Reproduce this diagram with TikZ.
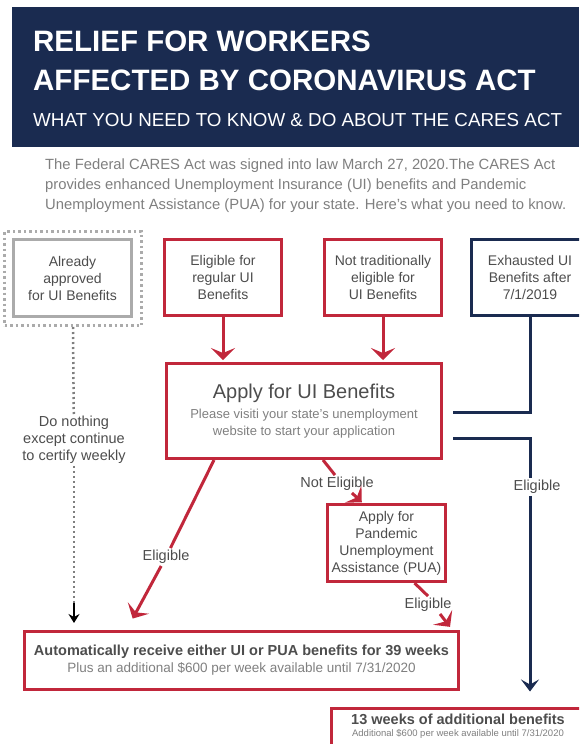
\documentclass[tikz,border=0pt]{standalone}
\usepackage{fontspec}
\setmainfont{Liberation Sans}
\usetikzlibrary{positioning, arrows.meta}
\definecolor{navy}{HTML}{1A2B50}
\definecolor{crimson}{HTML}{C1273B}
\definecolor{txtgray}{HTML}{4D4D4D}
\definecolor{softgray}{HTML}{7F7F7F}
\definecolor{boxgray}{HTML}{ABABAB}
\newcommand\fs[2]{\fontsize{#1}{#2}\selectfont}

\begin{document}
\begin{tikzpicture}[x=1pt, y=-1pt,
  redbox/.style = {draw=crimson, line width=3pt, text=txtgray, align=center, font=\fs{14}{17}, inner sep=0pt},
  navybox/.style = {redbox, draw=navy},
  lbl/.style = {text=txtgray, align=center, font=\fs{14.5}{17}, inner sep=2pt},
  redline/.style = {draw=crimson, line width=3pt},
  redarrow/.style = {redline, -{Stealth[length=12pt, width=24pt, inset=5pt]}},
  navyline/.style = {draw=navy, line width=3pt},
  navyarrow/.style = {navyline, -{Stealth[length=12pt, width=18pt, inset=5pt]}},
  dotline/.style = {draw=softgray, line width=2.5pt, dash pattern=on 2pt off 3pt}]
\useasboundingbox (0,0) rectangle (579,744);
\clip (0,0) rectangle (579,744);

\node[fill=navy, minimum width=567, minimum height=140, anchor=north west, inner sep=0] (header) at (12,7) {};
\node[anchor=base west, inner sep=0, text=white, font=\fs{29.5}{30}\bfseries] (title1) at (33,51) {RELIEF FOR WORKERS};
\node[anchor=base west, inner sep=0, text=white, font=\fs{29.5}{30}\bfseries] (title2) at (33,90) {AFFECTED BY CORONAVIRUS ACT};
\node[anchor=base west, inner sep=0, text=white, font=\fs{18.8}{20}] (subtitle) at (33,126) {WHAT YOU NEED TO KNOW \& DO ABOUT THE CARES ACT};
\node[anchor=north west, inner sep=0, align=left, text=softgray, font=\fs{14.8}{20}] (intro) at (45,159)
  {The Federal CARES Act was signed into law March 27, 2020.The CARES Act\\
   provides enhanced Unemployment Insurance (UI) benefits and Pandemic\\
   Unemployment Assistance (PUA) for your state. Here's what you need to know.};

\node[draw=boxgray, line width=3pt, dash pattern=on 2.5pt off 3pt, minimum width=137, minimum height=94] (approvedout) at (73,278.5) {};
\node[redbox, draw=boxgray, minimum width=118, minimum height=77] (approved) at (72.5,278) {Already\\approved\\for UI Benefits};
\node[redbox, minimum width=117, minimum height=76] (regular) at (223,277.5) {Eligible for\\regular UI\\Benefits};
\node[redbox, minimum width=117, minimum height=76] (nottrad) at (383,277.5) {Not traditionally\\eligible for\\UI Benefits};
\node[navybox, minimum width=117, minimum height=76] (exhausted) at (530,277.5) {Exhausted UI\\Benefits after\\7/1/2019};
\node[redbox, minimum width=275, minimum height=95] (apply) at (304,411)
  {{\fs{20}{24}Apply for UI Benefits}\\[3pt]
   {\color{softgray}\fs{13}{18}Please visiti your state's unemployment}\\
   {\color{softgray}\fs{13}{18}website to start your application}};
\node[redbox, minimum width=118, minimum height=77] (pua) at (386.5,543) {Apply for\\Pandemic\\Unemployment\\Assistance (PUA)};
\node[redbox, minimum width=434, minimum height=58] (auto) at (241.5,660.5)
  {{\fs{14.5}{20}\bfseries Automatically receive either UI or PUA benefits for 39 weeks}\\
   {\color{softgray}\fs{13.5}{20}Plus an additional \$600 per week available until 7/31/2020}};
\node[redbox, minimum width=253, minimum height=70] (extra) at (458,743) {};
\node[below=7pt of extra.north, text=txtgray, align=center, inner sep=0] (extratext)
  {{\fs{14.5}{16}\bfseries 13 weeks of additional benefits}\\
   {\color{softgray}\fs{9.5}{12}Additional \$600 per week available until 7/31/2020}};

\node[lbl] (donothing) at (74,440) {Do nothing\\except continue\\to certify weekly};
\node[lbl] (elig1) at (166,557) {Eligible};
\node[lbl] (noteli) at (337,484) {Not Eligible};
\node[lbl] (elig2) at (428,605) {Eligible};
\node[lbl] (elig3) at (537,487) {Eligible};
\coordinate (jumpin) at (453,412);
\coordinate (jumpout) at (453,438);
\coordinate (dotend) at (74,603);

\draw[redarrow, shorten >=2pt] (regular.south) -- (regular.south |- apply.north);
\draw[redarrow, shorten >=2pt] (nottrad.south) -- (nottrad.south |- apply.north);
\draw[dotline] (approvedout.south) -- (donothing);
\draw[dotline] (donothing) -- (dotend);
\draw[line width=1.6pt, -{Stealth[length=9pt, width=11pt, inset=3pt]}, shorten >=7pt] (dotend) -- (dotend |- auto.north);
\draw[redline] ([xshift=-90pt]apply.south) -- (elig1);
\draw[redarrow, shorten >=13pt] (elig1) -- ([xshift=-115pt]auto.north);
\draw[redline] ([xshift=19pt]apply.south) -- ([xshift=-2pt]noteli.north);
\draw[redarrow, shorten >=1pt] ([xshift=15pt]noteli.south) -- ([xshift=-24pt]pua.north);
\draw[redline] ([xshift=28pt]pua.south) -- (elig2.north);
\draw[redarrow, shorten >=4pt] ([xshift=12pt]elig2.south) -- ([xshift=211pt]auto.north);
\draw[navyline] (exhausted.south) |- (jumpin);
\draw[navyline] (jumpout) -| (exhausted.south |- elig3.north);
\draw[navyarrow, shorten >=15pt] (exhausted.south |- elig3.south) -- (exhausted.south |- extra.north);
\end{tikzpicture}
\end{document}
